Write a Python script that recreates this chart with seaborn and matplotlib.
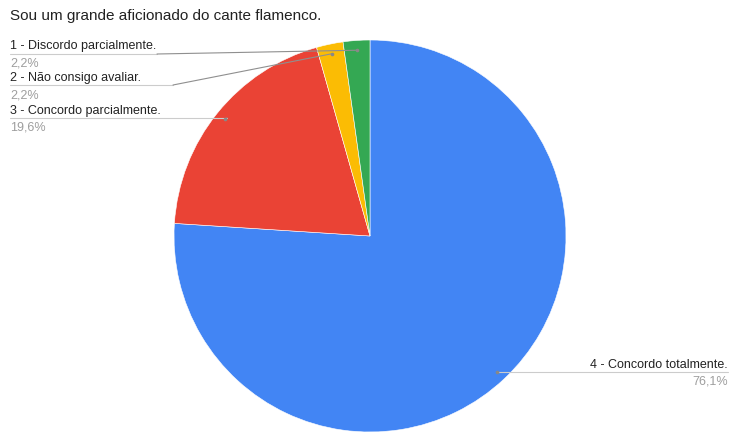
import numpy as np
import matplotlib
matplotlib.use("Agg")
import matplotlib.pyplot as plt
import seaborn as sns

# Survey answers and their shares (%), in drawing order (clockwise from 12 o'clock)
categories = ["4 - Concordo totalmente.", "3 - Concordo parcialmente.",
              "2 - Não consigo avaliar.", "1 - Discordo parcialmente."]
shares = [76.1, 19.6, 2.2, 2.2]
pct_labels = ["76,1%", "19,6%", "2,2%", "2,2%"]
colors = ["#4285F4", "#EA4335", "#FBBC04", "#34A853"]
title = "Sou um grande aficionado do cante flamenco."

sns.set_theme(style="white")
plt.rcParams["font.family"] = ["Liberation Sans", "DejaVu Sans"]

W, H = 730, 432
fig = plt.figure(figsize=(W / 100, H / 100), dpi=100)
fig.patch.set_facecolor("white")

# pie geometry in pixels
cx, cy, R = 370, 236, 196
ax = fig.add_axes([(cx - R) / W, (H - cy - R) / H, 2 * R / W, 2 * R / H])
wedges, _ = ax.pie(shares, colors=colors, startangle=90, counterclock=False,
                   radius=1.0, wedgeprops=dict(edgecolor="white", linewidth=0.4))
ax.set_xlim(-1, 1)
ax.set_ylim(-1, 1)
ax.set_aspect("equal")
ax.axis("off")


def px(x, y):
    """pixel (top-left origin) -> figure fraction"""
    return x / W, 1 - y / H


def anchor(w, r=0.95):
    """figure-pixel point inside a wedge at its mid-angle"""
    th = np.deg2rad((w.theta1 + w.theta2) / 2)
    xd, yd = r * np.cos(th), r * np.sin(th)
    X, Y = ax.transData.transform((xd, yd))
    return X, H - Y


fig.text(*px(10, 16), title, fontsize=11, color="#222222", va="center", ha="left")

label_fs = 9.0
under_c = "#cccccc"
lead_c = "#8f8f8f"

# left-side labels: (wedge index, text centre y, underline y, underline end x)
left = [(3, 46, 54, 157), (2, 78, 85, 173), (1, 111, 118, 227)]
for idx, ty, uy, ux in left:
    fig.text(*px(10, ty), categories[idx], fontsize=label_fs, color="#222222",
             va="center", ha="left")
    fig.text(*px(10, ty + 17), pct_labels[idx], fontsize=label_fs, color="#9e9e9e",
             va="center", ha="left")
    axp, ayp = anchor(wedges[idx])
    xs = [10, ux, axp]
    ys = [uy, uy, ayp]
    fig.lines.append(plt.Line2D([x / W for x in xs[:2]], [1 - y / H for y in ys[:2]],
                                transform=fig.transFigure, color=under_c, lw=0.8))
    fig.lines.append(plt.Line2D([x / W for x in xs[1:]], [1 - y / H for y in ys[1:]],
                                transform=fig.transFigure, color=lead_c, lw=0.8))
    fig.lines.append(plt.Line2D([axp / W], [1 - ayp / H], transform=fig.transFigure,
                                marker="o", ms=1.6, color="#888888", lw=0))

# right-side label for the large slice
axp, ayp = anchor(wedges[0])
fig.text(*px(728, ayp - 7), categories[0], fontsize=label_fs, color="#222222",
         va="center", ha="right")
fig.text(*px(728, ayp + 10), pct_labels[0], fontsize=label_fs, color="#9e9e9e",
         va="center", ha="right")
fig.lines.append(plt.Line2D([axp / W, 728 / W], [1 - ayp / H, 1 - ayp / H],
                            transform=fig.transFigure, color=under_c, lw=0.8))
fig.lines.append(plt.Line2D([axp / W], [1 - ayp / H], transform=fig.transFigure,
                            marker="o", ms=1.6, color="#888888", lw=0))

fig.savefig("out.png", dpi=100)
